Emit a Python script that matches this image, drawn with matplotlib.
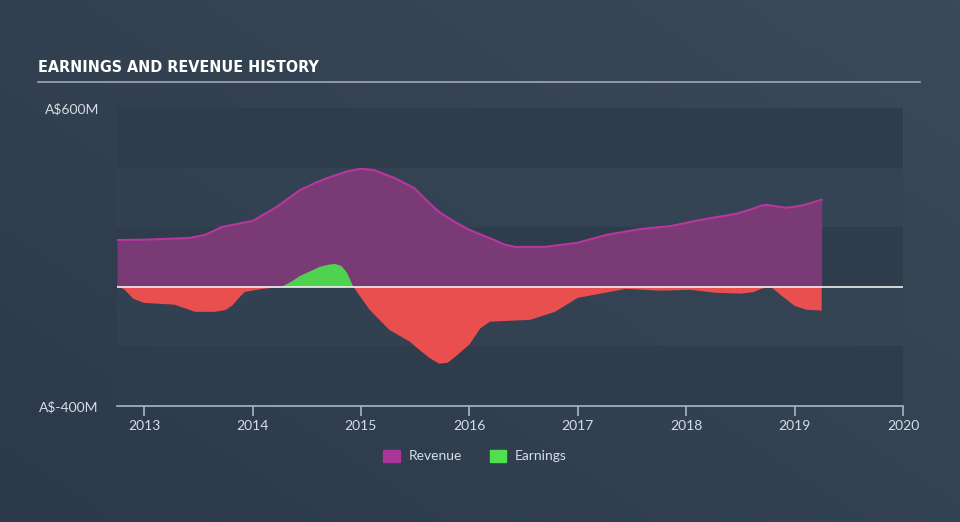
import numpy as np
import matplotlib.pyplot as plt
from matplotlib.patches import Rectangle
from matplotlib.lines import Line2D
from matplotlib import font_manager

# revenue, A$ millions
rev_t = [2012.75, 2013.0, 2013.42, 2013.56, 2013.72, 2014.0, 2014.21, 2014.44, 2014.6,
         2014.72, 2014.88, 2015.0, 2015.12, 2015.31, 2015.49, 2015.6, 2015.72, 2015.86,
         2016.0, 2016.23, 2016.32, 2016.42, 2016.7, 2017.0, 2017.26, 2017.58, 2017.86,
         2018.14, 2018.46, 2018.6, 2018.69, 2018.74, 2018.92, 2019.06, 2019.25]
rev_v = [157, 158, 164, 174, 201, 221, 265, 325, 352,
         369, 388, 396, 392, 365, 332, 292, 251, 219,
         191, 157, 142, 134, 134, 148, 174, 194, 204,
         225, 245, 260, 272, 275, 265, 272, 292]

# earnings, A$ millions
earn_t = [2012.75, 2012.82, 2012.9, 2013.0, 2013.28, 2013.4, 2013.47, 2013.65, 2013.75,
          2013.81, 2013.88, 2013.93, 2014.09, 2014.27, 2014.37, 2014.44, 2014.55, 2014.62,
          2014.7, 2014.76, 2014.82, 2014.87, 2014.93, 2015.08, 2015.26, 2015.45, 2015.55,
          2015.63, 2015.72, 2015.8, 2015.86, 2016.0, 2016.1, 2016.19, 2016.37, 2016.56,
          2016.79, 2017.0, 2017.21, 2017.44, 2017.77, 2018.04, 2018.27, 2018.5, 2018.62,
          2018.69, 2018.78, 2018.87, 2019.0, 2019.11, 2019.25]
earn_v = [5, -10, -40, -54, -60, -75, -84, -84, -78,
          -64, -35, -17, -7, 0, 20, 37, 55, 67,
          74, 77, 70, 48, 0, -77, -144, -184, -215,
          -238, -258, -255, -238, -194, -140, -117, -114, -111,
          -84, -37, -23, -7, -13, -10, -20, -23, -18,
          -7, 0, -27, -64, -77, -80]

years = list(range(2013, 2021))
ylim = (-400, 600)

W, H = 960, 522
fig = plt.figure(figsize=(W / 100, H / 100), dpi=100)

# background gradient
bg = fig.add_axes([0, 0, 1, 1])
gx = np.linspace(0, 1, 200)
gy = np.linspace(0, 1, 100)
X, Y = np.meshgrid(gx, gy)
g = 0.55 * X + 0.45 * (1 - Y)
c0 = np.array([0x2b, 0x39, 0x4a]) / 255
c1 = np.array([0x3b, 0x4a, 0x59]) / 255
img = c0[None, None, :] * (1 - g[..., None]) + c1[None, None, :] * g[..., None]
bg.imshow(img, extent=[0, 1, 0, 1], aspect='auto', origin='upper')
bg.axis('off')

ax = fig.add_axes([117 / W, 1 - 406 / H, (903 - 117) / W, (406 - 108) / H])
ax.set_xlim(2012.75, 2020.0)
ax.set_ylim(*ylim)
ax.patch.set_alpha(0)

# horizontal bands
band_cols = ['#2e3c4c', '#34445499', '#2e3c4c', '#34445499', '#2e3c4c']
for i, lo in enumerate(range(400, -600, -200)):
    ax.add_patch(Rectangle((2012.75, lo), 7.25, 200,
                           color=band_cols[i], zorder=0, lw=0))

ax.fill_between(rev_t, 0, rev_v, color='#7a3a76', zorder=2, lw=0)
ax.plot(rev_t, rev_v, color='#b8379f', lw=1.5, zorder=3)

ev = np.array(earn_v)
ax.fill_between(earn_t, 0, ev, where=ev >= 0, interpolate=True,
                color='#4fd24f', zorder=4, lw=0)
ax.fill_between(earn_t, 0, ev, where=ev <= 0, interpolate=True,
                color='#e94f4f', zorder=4, lw=0)
ax.axhline(0, color='#f0f0f0', lw=1.2, zorder=5)

for s in ['top', 'right', 'left']:
    ax.spines[s].set_visible(False)
ax.spines['bottom'].set_color('#a9b6c6')
ax.spines['bottom'].set_linewidth(1.2)
ax.set_xticks(years)
ax.set_xticklabels([str(y) for y in years])
ax.tick_params(axis='x', colors='#a9b6c6', length=7, width=1.2,
               labelcolor='#d6dde5', labelsize=10, pad=3)
ax.set_yticks([600, -400])
ax.set_yticklabels(['A$600M', 'A$-400M'])
ax.tick_params(axis='y', length=0, labelcolor='#d6dde5', labelsize=10, pad=13)
for lab in ax.get_xticklabels() + ax.get_yticklabels():
    lab.set_family(['Lato', 'DejaVu Sans'])

# title and rule
names = {f.name for f in font_manager.fontManager.ttflist}
title_fam = 'Liberation Sans Narrow' if 'Liberation Sans Narrow' in names else 'DejaVu Sans'
fig.text(38 / W, 1 - 68 / H, 'EARNINGS AND REVENUE HISTORY', color='white',
         fontsize=11.5, fontweight='bold', va='center', ha='left',
         family=[title_fam, 'DejaVu Sans'], fontstretch='condensed')
fig.add_artist(Line2D([38 / W, 920 / W], [1 - 82 / H, 1 - 82 / H],
                      color='#a0a8b2', lw=1.2))

handles = [Rectangle((0, 0), 1, 1, color='#a8359a'),
           Rectangle((0, 0), 1, 1, color='#4fe04f')]
leg = fig.legend(handles, ['Revenue', 'Earnings'], loc='center',
                 bbox_to_anchor=(475 / W, 1 - 456 / H), ncol=2, frameon=False,
                 handlelength=1.2, handleheight=1.0, columnspacing=2.0,
                 handletextpad=0.6, prop={'family': ['Lato', 'DejaVu Sans'], 'size': 10})
for t in leg.get_texts():
    t.set_color('#d6dde5')

fig.savefig('out.png', dpi=100)
